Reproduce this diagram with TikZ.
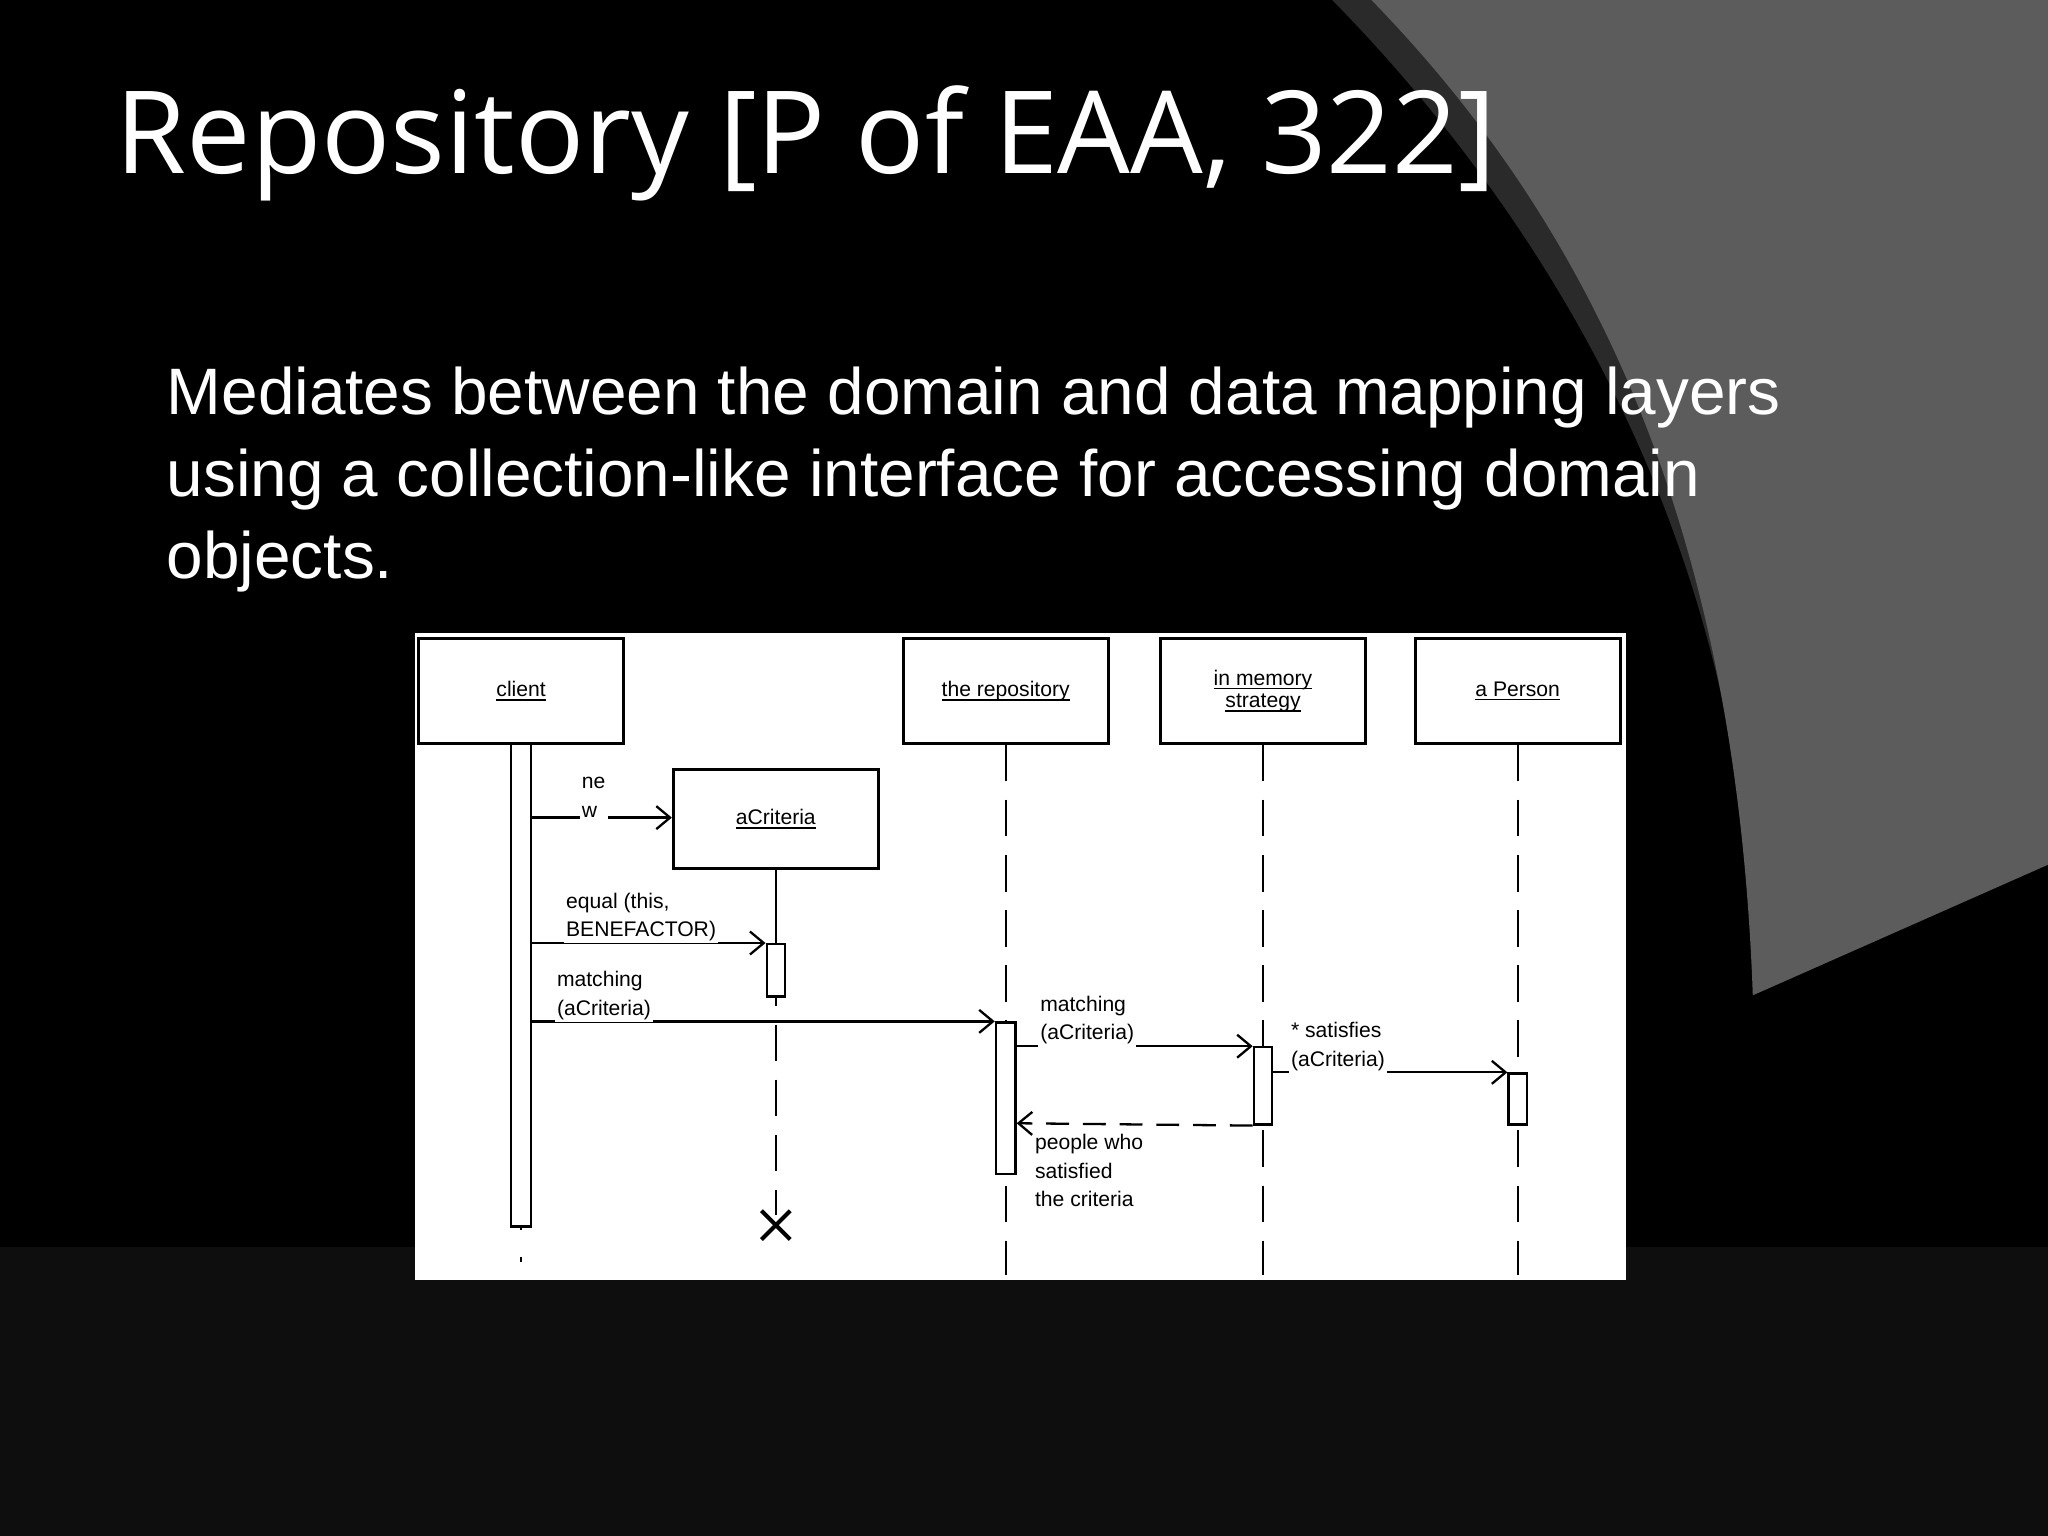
\documentclass[tikz,border=0pt]{standalone}
\usepackage{fontspec}
\setmainfont{Liberation Sans}
\newfontfamily\titlefont{Open Sans}
\usetikzlibrary{arrows.meta,positioning,calc}
\definecolor{panelgray}{HTML}{5C5C5C}
\definecolor{bandgray}{HTML}{2A2A2A}
\definecolor{floorgray}{HTML}{0E0E0E}
\newcommand{\uline}[1]{\tikz[baseline=(u.base)]\node[inner sep=0pt, outer sep=0pt] (u) {#1}; \kern-\dimexpr0pt\relax}
\tikzset{
  objbox/.style = {draw, line width=0.6pt, minimum width=1.57cm, minimum height=0.8cm, inner sep=0pt, font=\fontsize{4.6}{5.4}\selectfont, align=center},
  actbar/.style = {draw, fill=white, line width=0.5pt},
  lifeline/.style = {line width=0.5pt, dash pattern=on 8pt off 4pt},
  msg/.style = {line width=0.5pt, -{Straight Barb[open,length=3pt,width=5pt]}},
  retmsg/.style = {msg, dash pattern=on 5pt off 3pt},
  msglabel/.style = {font=\fontsize{4.6}{6.2}\selectfont, align=left, inner sep=0.5pt, fill=white},
}
\newcommand{\ul}[1]{\setbox0\hbox{#1}\rlap{\rule[-0.9pt]{\wd0}{0.35pt}}\box0}
\begin{document}
\begin{tikzpicture}[x=0.01cm, y=-0.01cm]
  \useasboundingbox (0,0) rectangle (1568,1176);
  % background
  \fill[black] (0,0) rectangle (1568,1176);
  \fill[floorgray] (0,955) rectangle (1568,1176);
  \fill[bandgray] (1020,0) .. controls (1245,230) and (1345,500) .. (1342,762) -- (1568,662) -- (1568,0) -- cycle;
  \fill[panelgray] (1050,0) .. controls (1235,190) and (1330,430) .. (1342,762) -- (1568,662) -- (1568,0) -- cycle;
  % texts
  \node[anchor=base west, white, inner sep=0pt, font=\titlefont\fontsize{25}{30}\selectfont] (title) at (88,133) {Repository [P of EAA, 322]};
  \node[anchor=base west, white, inner sep=0pt, align=left, font=\fontsize{14.3}{17.9}\selectfont] (body) at (127,443)
    {Mediates between the domain and data mapping layers\\using a collection-like interface for accessing domain\\objects.};
  % diagram panel
  \fill[white] (318,485) rectangle (1245,980);
  \node[objbox] (client) at (399,529) {\ul{client}};
  \node[objbox] (repo) at (770,529) {\ul{the repository}};
  \node[objbox] (mem) at (967,529) {\ul{in memory}\\[-0.5pt]\ul{strategy}};
  \node[objbox] (person) at (1162,529) {\ul{a Person}};
  \node[objbox, minimum height=0.76cm] (crit) at (594,627) {\ul{aCriteria}};
  % lifelines
  \draw[line width=0.5pt, dash pattern=on 1pt off 6pt] (399,938) -- (399,976);
  \draw[line width=0.5pt] (crit.south) -- (594,700);
  \draw[lifeline] (594,700) -- (594,930);
  \draw[lifeline] (repo.south) -- (770,976);
  \draw[lifeline] (mem.south) -- (967,976);
  \draw[lifeline] (person.south) -- (1162,976);
  % activations
  \node[actbar, minimum width=0.15cm, minimum height=3.69cm, inner sep=0pt, anchor=north] (clientact) at (399,569) {};
  \node[actbar, minimum width=0.14cm, minimum height=0.40cm, inner sep=0pt, anchor=north] (critact) at (594,722) {};
  \node[actbar, minimum width=0.15cm, minimum height=1.16cm, inner sep=0pt, anchor=north] (repoact) at (770,782) {};
  \node[actbar, minimum width=0.14cm, minimum height=0.59cm, inner sep=0pt, anchor=north] (memact) at (967,801) {};
  \node[actbar, minimum width=0.14cm, minimum height=0.39cm, inner sep=0pt, anchor=north] (personact) at (1162,821) {};
  % destruction mark
  \coordinate (kill) at (594,938);
  \draw[line width=0.9pt] ($(kill)+(-11,-11)$) -- ++(22,22) ($(kill)+(-11,11)$) -- ++(22,-22);
  % messages
  \draw[msg] (clientact.east |- 0,626) -- (crit.west |- 0,626);
  \node[msglabel, anchor=south west] (newlbl) at (443,628) {ne\\w};
  \draw[msg] (clientact.east |- 0,722) -- (critact.north west);
  \node[msglabel, anchor=south west] (eqlbl) at (431,723) {equal (this,\\BENEFACTOR)};
  \draw[msg] (clientact.east |- 0,782) -- (repoact.north west);
  \node[msglabel, anchor=south west] (m1lbl) at (424,783) {matching\\(aCriteria)};
  \draw[msg] (repoact.east |- 0,801) -- (memact.north west);
  \node[msglabel, anchor=south west] (m2lbl) at (794,802) {matching\\(aCriteria)};
  \draw[msg] (memact.east |- 0,821) -- (personact.north west);
  \node[msglabel, anchor=south west] (satlbl) at (986,822) {* satisfies\\(aCriteria)};
  \draw[retmsg] (memact.south west) -- (repoact.east |- 0,860);
  \node[msglabel, anchor=north west] (retlbl) at (790,866) {people who\\satisfied\\the criteria};
\end{tikzpicture}
\end{document}
